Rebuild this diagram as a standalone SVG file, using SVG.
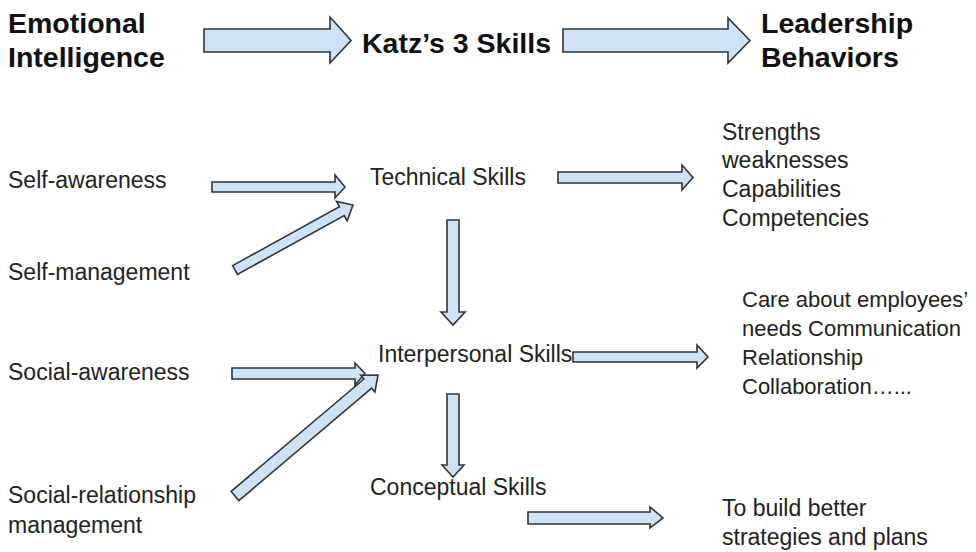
<svg xmlns="http://www.w3.org/2000/svg" width="976" height="552" viewBox="0 0 976 552">
  <style>
    .hd { font-family: "Liberation Sans", Arial, sans-serif; font-weight: bold; font-size: 28.5px; fill: #111; }
    .tx { font-family: "Liberation Sans", Arial, sans-serif; font-size: 23px; fill: #222; }
    .sm { font-size: 22px; }
    .arr { fill: #cfe2f3; stroke: #333; stroke-width: 1.6; stroke-linejoin: miter; }
  </style>
  <rect width="976" height="552" fill="#ffffff"/>

  <!-- column headings -->
  <g id="ei-heading">
    <text class="hd" x="8" y="33">Emotional</text>
    <text class="hd" x="8" y="67">Intelligence</text>
  </g>
  <g id="katz-heading">
    <text class="hd" x="362" y="53">Katz’s 3 Skills</text>
  </g>
  <g id="lb-heading">
    <text class="hd" x="761" y="33">Leadership</text>
    <text class="hd" x="761" y="67">Behaviors</text>
  </g>

  <!-- emotional intelligence components -->
  <g id="self-awareness"><text class="tx" x="8" y="188">Self-awareness</text></g>
  <g id="self-management"><text class="tx" x="8" y="280">Self-management</text></g>
  <g id="social-awareness"><text class="tx" x="8" y="380">Social-awareness</text></g>
  <g id="social-relationship">
    <text class="tx" x="8" y="503">Social-relationship</text>
    <text class="tx" x="8" y="533">management</text>
  </g>

  <!-- Katz skills -->
  <g id="technical"><text class="tx" x="370" y="185">Technical Skills</text></g>
  <g id="interpersonal"><text class="tx" x="378" y="362">Interpersonal Skills</text></g>
  <g id="conceptual"><text class="tx" x="370" y="495">Conceptual Skills</text></g>

  <!-- leadership behaviours -->
  <g id="behaviors-technical">
    <text class="tx" x="722" y="140">Strengths</text>
    <text class="tx" x="722" y="168">weaknesses</text>
    <text class="tx" x="722" y="197">Capabilities</text>
    <text class="tx" x="722" y="226">Competencies</text>
  </g>
  <g id="behaviors-interpersonal">
    <text class="tx sm" x="742" y="307">Care about employees’</text>
    <text class="tx sm" x="742" y="336">needs Communication</text>
    <text class="tx sm" x="742" y="365">Relationship</text>
    <text class="tx sm" x="742" y="394">Collaboration…...</text>
  </g>
  <g id="behaviors-conceptual">
    <text class="tx" x="722" y="516">To build better</text>
    <text class="tx" x="722" y="545">strategies and plans</text>
  </g>

  <!-- block arrows -->
  <g id="connectors">
    <polygon class="arr" points="204,29 330,29 330,17 351,40.5 330,63 330,52 204,52"/>
    <polygon class="arr" points="563,29 728,29 728,18 750,40.5 728,63 728,52 563,52"/>

    <polygon class="arr" points="212,182 335,182 335,175 345,187 335,198 335,192 212,192"/>
    <polygon class="arr" transform="translate(235,270) rotate(-28.85)" points="0,-5 122,-5 122,-11 134.7,0 122,11 122,5 0,5"/>
    <polygon class="arr" points="558,172 682,172 682,165 693,177.5 682,190 682,183 558,183"/>
    <polygon class="arr" points="447,220 459,220 459,312 465,312 453,325 441,312 447,312"/>

    <polygon class="arr" points="232,368 355,368 355,363 365,373.5 355,385 355,379 232,379"/>
    <polygon class="arr" transform="translate(235,496) rotate(-40.24)" points="0,-6 174,-6 174,-11 187.3,0 174,11 174,6 0,6"/>
    <polygon class="arr" points="573,352 697,352 697,345 708,357 697,368 697,362 573,362"/>
    <polygon class="arr" points="447,394 459,394 459,465 464,465 453,477 442,465 447,465"/>

    <polygon class="arr" points="528,512 650,512 650,507 663,518 650,528 650,524 528,524"/>
  </g>
</svg>
